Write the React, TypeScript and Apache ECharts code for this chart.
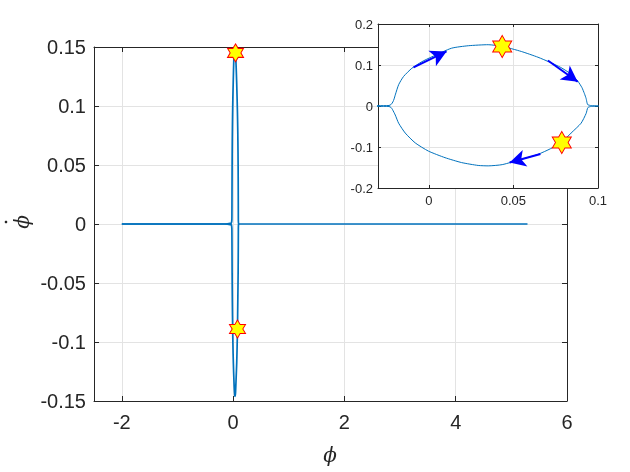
import React, { useEffect, useRef } from 'react';
import * as echarts from 'echarts';

// Upper branch of the trajectory (phi, phi-dot)
const upperX = [-2, -0.15, -0.03, -0.0235, -0.0222, -0.0212, -0.0205, -0.0198, -0.0178, -0.0149, -0.010, -0.0041, 0.0018, 0.0135, 0.0234, 0.0351, 0.0434, 0.0547, 0.0645, 0.0714, 0.078, 0.084, 0.088, 0.0905, 0.092, 0.093, 0.0935, 0.094, 0.096, 0.1, 5.29];
const upperY = [0, 0, 0.0008, 0.0012, 0.004, 0.010, 0.017, 0.027, 0.052, 0.072, 0.092, 0.108, 0.120, 0.141, 0.147, 0.1495, 0.1455, 0.133, 0.119, 0.107, 0.094, 0.078, 0.061, 0.045, 0.030, 0.018, 0.008, 0.003, 0.001, 0, 0];
// Lower branch
const lowerX = [-2, -0.15, -0.03, -0.0235, -0.0222, -0.0214, -0.0198, -0.0178, -0.0139, -0.008, -0.0002, 0.0096, 0.0194, 0.0292, 0.0351, 0.0434, 0.0547, 0.0645, 0.072, 0.0786, 0.0841, 0.090, 0.093, 0.094, 0.096, 0.1];
const lowerY = [0, 0, -0.0008, -0.0012, -0.004, -0.009, -0.022, -0.042, -0.066, -0.090, -0.110, -0.126, -0.138, -0.145, -0.146, -0.143, -0.130, -0.118, -0.104, -0.088, -0.066, -0.042, -0.018, -0.004, -0.001, 0];
// Marked points (hexagrams)
const starX = [0.0434, 0.0786];
const starY = [0.145, -0.089];
// Direction arrows in the inset: tail and arrow-head centre
const arrowStartX = [-0.009, 0.0704, 0.066];
const arrowStartY = [0.094, 0.111, -0.117];
const arrowHeadX = [0.0105, 0.0880, 0.0478];
const arrowHeadY = [0.133, 0.059, -0.138];

const LINE = '#0072BD';
const AX = '#262626';
const GRID = '#e3e3e3';
const HEX = 'path://M100,0 L128.9,50 L186.6,50 L157.7,100 L186.6,150 L128.9,150 L100,200 L71.1,150 L13.4,150 L42.3,100 L13.4,50 L71.1,50 Z';

const zip = (xs: number[], ys: number[]) => xs.map((x, i) => [x, ys[i]]);

export default function App() {
  const ref = useRef<HTMLDivElement>(null);
  useEffect(() => {
    document.body.style.margin = '0';
    const chart = echarts.init(ref.current!, null, { renderer: 'svg' });
    const font = '"Liberation Sans", Arial, sans-serif';
    const mkX = (grid: number, min: number, max: number, pos: 'bottom' | 'top', main: boolean, extra: any = {}) => ({
      type: 'value', gridIndex: grid, min, max, position: pos,
      axisLine: { show: true, onZero: false, lineStyle: { color: AX, width: 1 } },
      axisTick: { show: true, inside: true, length: main ? 5 : 3, lineStyle: { color: AX } },
      axisLabel: pos === 'bottom' ? { show: true, showMinLabel: false, color: AX, fontFamily: font, fontSize: main ? 20 : 13, margin: main ? 11 : 6 } : { show: false },
      splitLine: { show: pos === 'bottom', lineStyle: { color: GRID, width: 1 } },
      ...extra,
    });
    const mkY = (grid: number, min: number, max: number, interval: number, pos: 'left' | 'right', main: boolean, extra: any = {}) => ({
      type: 'value', gridIndex: grid, min, max, interval, position: pos,
      axisLine: { show: true, onZero: false, lineStyle: { color: AX, width: 1 } },
      axisTick: { show: true, inside: true, length: main ? 5 : 3, lineStyle: { color: AX } },
      axisLabel: pos === 'left' ? { show: true, color: AX, fontFamily: font, fontSize: main ? 20 : 13, margin: main ? 8 : 5 } : { show: false },
      splitLine: { show: pos === 'left', lineStyle: { color: GRID, width: 1 } },
      ...extra,
    });
    const option: any = {
      animation: false,
      grid: [
        { left: 94, top: 47, width: 473, height: 354, show: false, z: 0 },
        { left: 378, top: 24, width: 220, height: 164, show: true, backgroundColor: '#ffffff', borderWidth: 0, z: 10 },
      ],
      xAxis: [
        mkX(0, -2.5, 6, 'bottom', true, { splitNumber: 5 }),
        mkX(0, -2.5, 6, 'top', true, { splitNumber: 5 }),
        mkX(1, -0.03, 0.1, 'bottom', false, { splitNumber: 3, z: 11 }),
        mkX(1, -0.03, 0.1, 'top', false, { splitNumber: 3, z: 11 }),
      ],
      yAxis: [
        mkY(0, -0.15, 0.15, 0.05, 'left', true),
        mkY(0, -0.15, 0.15, 0.05, 'right', true),
        mkY(1, -0.2, 0.2, 0.1, 'left', false, { z: 11 }),
        mkY(1, -0.2, 0.2, 0.1, 'right', false, { z: 11 }),
      ],
      series: [
        { type: 'line', xAxisIndex: 0, yAxisIndex: 0, data: zip(upperX, upperY), showSymbol: false, smooth: 0.2, lineStyle: { color: LINE, width: 1.7 }, z: 2 },
        { type: 'line', xAxisIndex: 0, yAxisIndex: 0, data: zip(lowerX, lowerY), showSymbol: false, smooth: 0.2, lineStyle: { color: LINE, width: 1.7 }, z: 2 },
        { type: 'scatter', xAxisIndex: 0, yAxisIndex: 0, data: zip(starX, starY), symbol: HEX, symbolSize: [16, 18], itemStyle: { color: '#ffff00', borderColor: '#ff0000', borderWidth: 1, opacity: 1 }, z: 3 },
        {
          type: 'line', xAxisIndex: 2, yAxisIndex: 2, data: zip(upperX, upperY), showSymbol: false, smooth: 0.2, lineStyle: { color: LINE, width: 1 }, z: 12,
          markLine: {
            silent: true, z: 13, symbol: ['none', 'arrow'], symbolSize: [13, 16],
            label: { show: false },
            lineStyle: { color: '#0000ff', width: 2, type: 'solid' },
            data: arrowStartX.map((x, i) => [{ coord: [x, arrowStartY[i]] }, { coord: [arrowHeadX[i], arrowHeadY[i]] }]),
          },
        },
        { type: 'line', xAxisIndex: 2, yAxisIndex: 2, data: zip(lowerX, lowerY), showSymbol: false, smooth: 0.2, lineStyle: { color: LINE, width: 1 }, z: 12 },
        { type: 'scatter', xAxisIndex: 2, yAxisIndex: 2, data: zip(starX, starY), symbol: HEX, symbolSize: [19, 22], itemStyle: { color: '#ffff00', borderColor: '#ff0000', borderWidth: 1, opacity: 1 }, z: 14 },
      ],
      graphic: [
        { type: 'text', x: 330, y: 455, style: { text: 'ϕ', font: 'italic 20px "DejaVu Serif", serif', fill: AX, align: 'center', verticalAlign: 'middle' } },
        { type: 'text', x: 22, y: 222, rotation: Math.PI / 2, style: { text: 'ϕ', font: 'italic 20px "DejaVu Serif", serif', fill: AX, align: 'center', verticalAlign: 'middle' } },
        { type: 'circle', shape: { cx: 6, cy: 222, r: 1.3 }, style: { fill: AX } },
      ],
    };
    chart.setOption(option);
    return () => chart.dispose();
  }, []);
  return <div ref={ref} style={{ position: 'fixed', left: 0, top: 0, width: 630, height: 472 }} />;
}
